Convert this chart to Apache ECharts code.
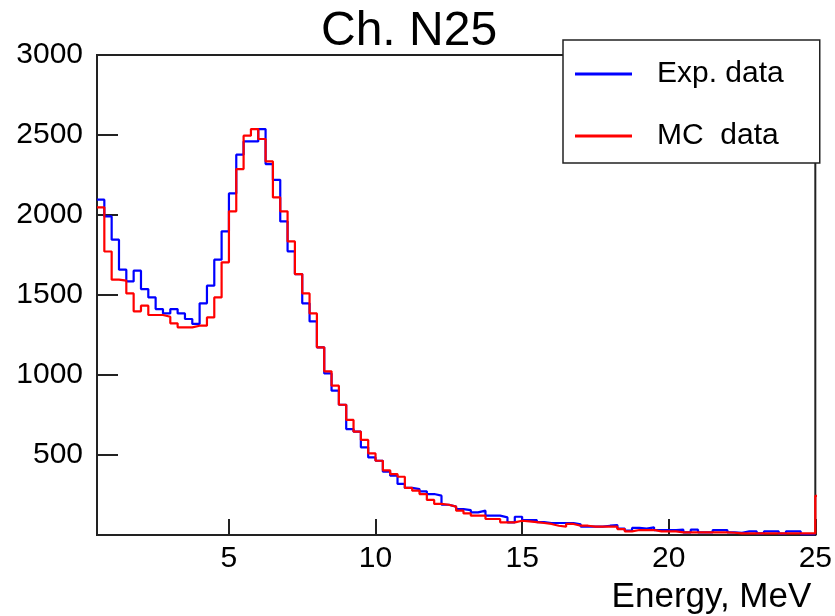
<!DOCTYPE html>
<html>
<head>
<meta charset="utf-8">
<script src="https://cdn.jsdelivr.net/npm/echarts@6/dist/echarts.min.js"></script>
<style>html,body{margin:0;padding:0;background:#fff;}#c{width:835px;height:616px;}</style>
</head>
<body>
<div id="c"></div>
<script>
// Bin lower edges (MeV), bin width 0.25
const binLow = [0.5,0.75,1,1.25,1.5,1.75,2,2.25,2.5,2.75,3,3.25,3.5,3.75,4,4.25,4.5,4.75,5,5.25,5.5,5.75,6,6.25,6.5,6.75,7,7.25,7.5,7.75,8,8.25,8.5,8.75,9,9.25,9.5,9.75,10,10.25,10.5,10.75,11,11.25,11.5,11.75,12,12.25,12.5,12.75,13,13.25,13.5,13.75,14,14.25,14.5,14.75,15,15.25,15.5,15.75,16,16.25,16.5,16.75,17,17.25,17.5,17.75,18,18.25,18.5,18.75,19,19.25,19.5,19.75,20,20.25,20.5,20.75,21,21.25,21.5,21.75,22,22.25,22.5,22.75,23,23.25,23.5,23.75,24,24.25,24.5,24.75];
const binHighEnd = 25;
const expCounts = [2096,1991,1846,1658,1585,1652,1537,1485,1412,1385,1412,1385,1350,1319,1448,1558,1721,1898,2135,
  2377,2460,2460,2537,2318,2220,1960,1773,
  1631,1448,1335,1173,1010,902,814,662,646,548,485,464,396,371,319,
  294,287,273,256,246,189,177,162,156,141,152,121,121,110,79,114,
  93,93,80,75,75,75,75,66,52,52,52,58,62,40,27,44,40,48,31,31,
  31,33,16,33,16,16,31,31,16,14,23,23,10,23,23,8,23,23,6,6];
const mcCounts = [2048,1772,1596,1590,1510,1398,1433,1375,1375,1364,1323,1298,1298,1308,1308,1360,1485,1704,2023,
  2287,2496,2537,2475,2335,2110,2023,1835,
  1631,1510,1385,1173,1023,933,814,719,646,594,510,464,404,381,364,
  294,277,256,219,194,189,177,152,135,121,121,100,100,79,79,89,
  85,80,75,69,58,52,69,58,58,52,52,52,52,37,23,31,31,31,23,23,
  23,16,16,16,16,16,16,16,14,10,10,10,10,10,10,10,10,10,10,10];
const mcOverflow = 245;   // next MC bin beyond the axis end
const xTickValues = [5, 10, 15, 20, 25];
const yTickValues = [500, 1000, 1500, 2000, 2500, 3000];
const seriesNames = ['Exp. data', 'MC  data'];

function histPoints(counts, tailValue) {
  const pts = binLow.map((x, i) => [x, counts[i]]);
  if (tailValue === undefined) {
    pts.push([binHighEnd, counts[counts.length - 1]]);
  } else {
    pts.push([binHighEnd, tailValue]);
    pts.push([binHighEnd + 0.25, tailValue]);
  }
  return pts;
}

const FONT = "'Liberation Sans', Arial, Helvetica, sans-serif";
const chart = echarts.init(document.getElementById('c'), null, {renderer: 'canvas'});
chart.setOption({
  animation: false,
  backgroundColor: '#fff',
  title: {
    text: 'Ch. N25', left: 321, top: 8, padding: 0,
    textStyle: {fontSize: 48, fontWeight: 'normal', fontFamily: FONT, color: '#000'}
  },
  legend: {
    orient: 'vertical', left: 563, top: 40,
    padding: [19, 36, 12, 12],
    itemWidth: 57, itemHeight: 3, itemGap: 32, icon: 'rect',
    borderColor: '#222', borderWidth: 1.5, backgroundColor: '#fff',
    textStyle: {fontSize: 30, fontFamily: FONT, color: '#000', padding: [3, 0, 0, 20]},
    data: seriesNames
  },
  grid: {left: 97, right: 18, top: 55, bottom: 81, show: true, borderColor: '#222', borderWidth: 2},
  xAxis: {
    type: 'value', min: 0.5, max: 25,
    name: 'Energy, MeV', nameLocation: 'end', nameGap: -4,
    nameTextStyle: {fontSize: 35, fontFamily: FONT, color: '#000', align: 'right', verticalAlign: 'top', padding: [45, 0, 0, 0]},
    axisLine: {show: true, lineStyle: {color: '#222', width: 2}},
    axisTick: {show: true, inside: true, length: 16, customValues: xTickValues, lineStyle: {color: '#222', width: 2}},
    axisLabel: {show: true, customValues: xTickValues, fontSize: 30, fontFamily: FONT, color: '#000', margin: 9,
      formatter: v => String(v)},
    splitLine: {show: false}
  },
  yAxis: {
    type: 'value', min: 0, max: 3000, interval: 500,
    axisLine: {show: true, lineStyle: {color: '#222', width: 2}},
    axisTick: {show: true, inside: true, length: 21, customValues: yTickValues, lineStyle: {color: '#222', width: 2}},
    axisLabel: {show: true, customValues: yTickValues, fontSize: 30, fontFamily: FONT, color: '#000', margin: 14,
      formatter: v => String(v)},
    splitLine: {show: false}
  },
  series: [
    {
      name: seriesNames[0], type: 'line', step: 'end', showSymbol: false, symbol: 'none',
      color: '#0000ff', lineStyle: {color: '#0000ff', width: 2.2}, clip: true,
      data: histPoints(expCounts)
    },
    {
      name: seriesNames[1], type: 'line', step: 'end', showSymbol: false, symbol: 'none',
      color: '#ff0000', lineStyle: {color: '#ff0000', width: 2.2}, clip: true,
      data: histPoints(mcCounts, mcOverflow)
    }
  ]
});
</script>
</body>
</html>
